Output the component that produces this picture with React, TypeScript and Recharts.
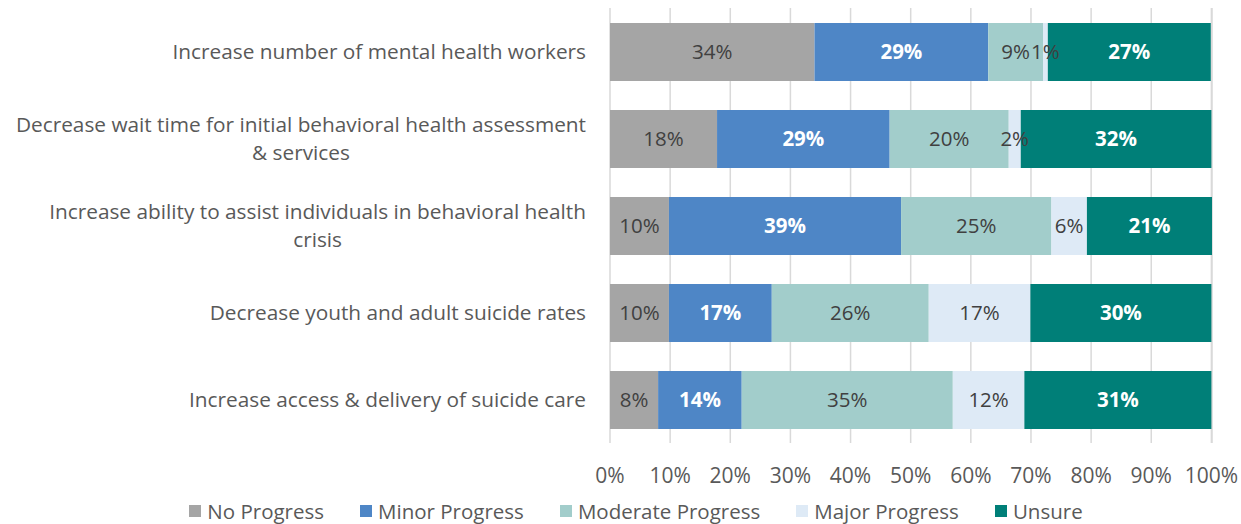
import { Bar, BarChart, CartesianGrid, LabelList, Legend, XAxis, YAxis } from "recharts";

const goals = [
  "Increase number of mental health workers",
  "Decrease wait time for initial behavioral health assessment|& services",
  "Increase ability to assist individuals in behavioral health|crisis",
  "Decrease youth and adult suicide rates",
  "Increase access & delivery of suicide care",
];

const noProgress = [34.0, 17.8, 9.8, 9.8, 8.0];
const minorProgress = [28.9, 28.7, 38.6, 17.1, 13.9];
const moderateProgress = [9.1, 19.8, 25.0, 26.1, 35.1];
const majorProgress = [0.8, 2.0, 5.9, 16.9, 11.9];
const unsure = [27.1, 31.7, 20.8, 30.1, 31.1];

const xTicks = [0, 10, 20, 30, 40, 50, 60, 70, 80, 90, 100];

const FONT = "'Open Sans', sans-serif";
const TEXT = "#595959";

const series = [
  { key: "no", name: "No Progress", color: "#A5A5A5", label: "#404040", bold: false },
  { key: "minor", name: "Minor Progress", color: "#4E86C6", label: "#ffffff", bold: true },
  { key: "moderate", name: "Moderate Progress", color: "#A2CDCB", label: "#404040", bold: false },
  { key: "major", name: "Major Progress", color: "#DEEAF6", label: "#404040", bold: false },
  { key: "unsure", name: "Unsure", color: "#007F78", label: "#ffffff", bold: true },
];

const data = goals.map((name, i) => ({
  name,
  no: noProgress[i],
  minor: minorProgress[i],
  moderate: moderateProgress[i],
  major: majorProgress[i],
  unsure: unsure[i],
}));

let ctx: CanvasRenderingContext2D | null = null;
function measure(text: string, size: number) {
  if (!ctx) ctx = document.createElement("canvas").getContext("2d");
  if (!ctx) return text.length * size * 0.5;
  ctx.font = `${size}px 'Open Sans'`;
  return ctx.measureText(text).width;
}

function GoalTick(props: any) {
  const { x, y, payload } = props;
  const lines: string[] = String(payload.value).split("|");
  const right = x - 16;
  const size = 20.8;
  if (lines.length === 1) {
    return (
      <text x={right} y={y} dy="0.35em" textAnchor="end" fill={TEXT} fontSize={size} fontFamily={FONT}>
        {lines[0]}
      </text>
    );
  }
  const cx = right - measure(lines[0], size) / 2;
  return (
    <text x={cx} y={y} textAnchor="middle" fill={TEXT} fontSize={size} fontFamily={FONT}>
      <tspan x={cx} dy="-0.33em">{lines[0]}</tspan>
      <tspan x={cx} dy="1.35em">{lines[1]}</tspan>
    </text>
  );
}

function LegendRow() {
  return (
    <div
      style={{
        display: "flex",
        justifyContent: "center",
        gap: 36,
        paddingLeft: 60,
        fontFamily: FONT,
        fontSize: 20.5,
        lineHeight: "22px",
        color: TEXT,
      }}
    >
      {series.map((s) => (
        <div key={s.key} style={{ display: "flex", alignItems: "center", gap: 6 }}>
          <span style={{ width: 12, height: 12, background: s.color, display: "inline-block" }} />
          <span>{s.name}</span>
        </div>
      ))}
    </div>
  );
}

export default function App() {
  return (
    <div style={{ position: "absolute", left: 0, top: 0, width: 1241, height: 524, background: "#fff" }}>
      <BarChart
        width={1241}
        height={524}
        data={data}
        layout="vertical"
        margin={{ top: 8, right: 29, left: 0, bottom: 0 }}
        barSize={58}
      >
        <CartesianGrid horizontal={false} stroke="#d9d9d9" strokeWidth={1.5} />
        <XAxis
          type="number"
          domain={[0, 100]}
          ticks={xTicks}
          tickFormatter={(v) => `${v}%`}
          axisLine={false}
          tickLine={false}
          tickMargin={19}
          height={57}
          interval={0}
          tick={{ fill: TEXT, fontSize: 21, fontFamily: FONT }}
        />
        <YAxis type="category" dataKey="name" width={610} axisLine={false} tickLine={false} tick={<GoalTick />} interval={0} />
        <Legend verticalAlign="bottom" height={24} content={() => <LegendRow />} />
        {series.map((s) => (
          <Bar key={s.key} dataKey={s.key} name={s.name} stackId="a" fill={s.color} isAnimationActive={false}>
            <LabelList
              dataKey={s.key}
              position="center"
              formatter={(v: any) => `${Math.round(Number(v))}%`}
              fill={s.label}
              fontSize={20.5}
              fontFamily={FONT}
              fontWeight={s.bold ? 700 : 400}
            />
          </Bar>
        ))}
      </BarChart>
    </div>
  );
}
